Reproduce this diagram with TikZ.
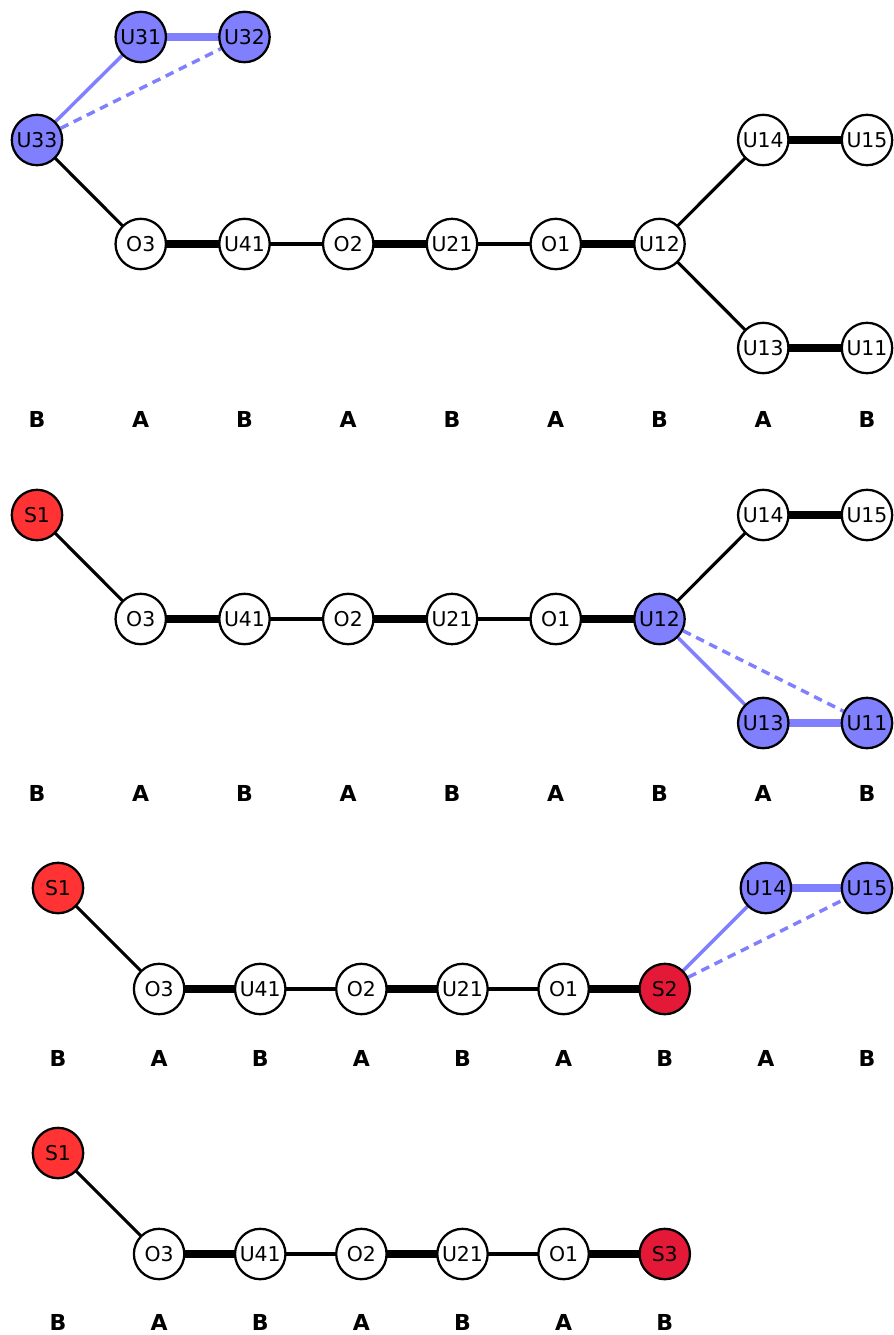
\documentclass[tikz,border=0pt]{standalone}
\usepackage{fontspec}
\setmainfont{DejaVu Sans}
\usetikzlibrary{backgrounds}
\definecolor{setblue}{HTML}{8080FF}
\definecolor{sred}{HTML}{FF3333}
\definecolor{scrimson}{HTML}{E31937}
\tikzset{
  vtx/.style={circle,draw=black,line width=1.7pt,fill=white,minimum size=37.8pt,inner sep=0pt,font=\fontsize{15.3}{16}\selectfont},
  hot/.style={vtx,fill=setblue},
  src/.style={vtx,fill=sred},
  snk/.style={vtx,fill=scrimson},
  lbl/.style={font=\fontsize{16.5}{18}\selectfont\bfseries},
  thin/.style={line width=2.3pt,black},
  thick/.style={line width=6pt,black},
  bthin/.style={line width=2.6pt,setblue},
  bthick/.style={line width=5.3pt,setblue},
  bdash/.style={line width=2.6pt,setblue,dash pattern=on 6.5pt off 4.5pt},
}
\begin{document}
\begin{tikzpicture}[x=0.75pt,y=-0.75pt]
\useasboundingbox (0,0) rectangle (893,1335);

% ---------- first stage ----------
\node[hot] (a31) at (140.75,37) {U31};
\node[hot] (a32) at (244.5,37) {U32};
\node[hot] (a33) at (37,140) {U33};
\node[vtx] (aO3) at (140.75,244) {O3};
\node[vtx] (a41) at (244.5,244) {U41};
\node[vtx] (aO2) at (348.25,244) {O2};
\node[vtx] (a21) at (452,244) {U21};
\node[vtx] (aO1) at (555.75,244) {O1};
\node[vtx] (a12) at (659.5,244) {U12};
\node[vtx] (a14) at (763.25,140) {U14};
\node[vtx] (a15) at (867,140) {U15};
\node[vtx] (a13) at (763.25,348) {U13};
\node[vtx] (a11) at (867,348) {U11};
\foreach \t [count=\i from 0] in {B,A,B,A,B,A,B,A,B}
  \node[lbl] (al\i) at (37+103.75*\i,419) {\t};
\begin{pgfonlayer}{background}
  \draw[bthin] (a33.center) -- (a31.center);
  \draw[bthick] (a31.center) -- (a32.center);
  \draw[bdash] (a33) -- (a32);
  \draw[thin] (a33.center) -- (aO3.center);
  \draw[thick] (aO3.center) -- (a41.center);
  \draw[thin] (a41.center) -- (aO2.center);
  \draw[thick] (aO2.center) -- (a21.center);
  \draw[thin] (a21.center) -- (aO1.center);
  \draw[thick] (aO1.center) -- (a12.center);
  \draw[thin] (a12.center) -- (a14.center);
  \draw[thick] (a14.center) -- (a15.center);
  \draw[thin] (a12.center) -- (a13.center);
  \draw[thick] (a13.center) -- (a11.center);
\end{pgfonlayer}

% ---------- second stage ----------
\node[src] (bS1) at (37,515) {S1};
\node[vtx] (bO3) at (140.75,619) {O3};
\node[vtx] (b41) at (244.5,619) {U41};
\node[vtx] (bO2) at (348.25,619) {O2};
\node[vtx] (b21) at (452,619) {U21};
\node[vtx] (bO1) at (555.75,619) {O1};
\node[hot] (b12) at (659.5,619) {U12};
\node[vtx] (b14) at (763.25,515) {U14};
\node[vtx] (b15) at (867,515) {U15};
\node[hot] (b13) at (763.25,723) {U13};
\node[hot] (b11) at (867,723) {U11};
\foreach \t [count=\i from 0] in {B,A,B,A,B,A,B,A,B}
  \node[lbl] (bl\i) at (37+103.75*\i,793) {\t};
\begin{pgfonlayer}{background}
  \draw[thin] (bS1.center) -- (bO3.center);
  \draw[thick] (bO3.center) -- (b41.center);
  \draw[thin] (b41.center) -- (bO2.center);
  \draw[thick] (bO2.center) -- (b21.center);
  \draw[thin] (b21.center) -- (bO1.center);
  \draw[thick] (bO1.center) -- (b12.center);
  \draw[thin] (b12.center) -- (b14.center);
  \draw[thick] (b14.center) -- (b15.center);
  \draw[bthin] (b12.center) -- (b13.center);
  \draw[bthick] (b13.center) -- (b11.center);
  \draw[bdash] (b12) -- (b11);
\end{pgfonlayer}

% ---------- third stage ----------
\node[src] (cS1) at (58,888) {S1};
\node[vtx] (cO3) at (159.1,989) {O3};
\node[vtx] (c41) at (260.25,989) {U41};
\node[vtx] (cO2) at (361.4,989) {O2};
\node[vtx] (c21) at (462.5,989) {U21};
\node[vtx] (cO1) at (563.6,989) {O1};
\node[snk] (cS2) at (664.75,989) {S2};
\node[hot] (c14) at (765.9,888) {U14};
\node[hot] (c15) at (867,888) {U15};
\foreach \t [count=\i from 0] in {B,A,B,A,B,A,B,A,B}
  \node[lbl] (cl\i) at (58+101.125*\i,1058) {\t};
\begin{pgfonlayer}{background}
  \draw[thin] (cS1.center) -- (cO3.center);
  \draw[thick] (cO3.center) -- (c41.center);
  \draw[thin] (c41.center) -- (cO2.center);
  \draw[thick] (cO2.center) -- (c21.center);
  \draw[thin] (c21.center) -- (cO1.center);
  \draw[thick] (cO1.center) -- (cS2.center);
  \draw[bthin] (cS2.center) -- (c14.center);
  \draw[bthick] (c14.center) -- (c15.center);
  \draw[bdash] (cS2) -- (c15);
\end{pgfonlayer}

% ---------- fourth stage ----------
\node[src] (dS1) at (58,1153) {S1};
\node[vtx] (dO3) at (159.1,1254) {O3};
\node[vtx] (d41) at (260.25,1254) {U41};
\node[vtx] (dO2) at (361.4,1254) {O2};
\node[vtx] (d21) at (462.5,1254) {U21};
\node[vtx] (dO1) at (563.6,1254) {O1};
\node[snk] (dS3) at (664.75,1254) {S3};
\foreach \t [count=\i from 0] in {B,A,B,A,B,A,B}
  \node[lbl] (dl\i) at (58+101.125*\i,1322) {\t};
\begin{pgfonlayer}{background}
  \draw[thin] (dS1.center) -- (dO3.center);
  \draw[thick] (dO3.center) -- (d41.center);
  \draw[thin] (d41.center) -- (dO2.center);
  \draw[thick] (dO2.center) -- (d21.center);
  \draw[thin] (d21.center) -- (dO1.center);
  \draw[thick] (dO1.center) -- (dS3.center);
\end{pgfonlayer}
\end{tikzpicture}
\end{document}
